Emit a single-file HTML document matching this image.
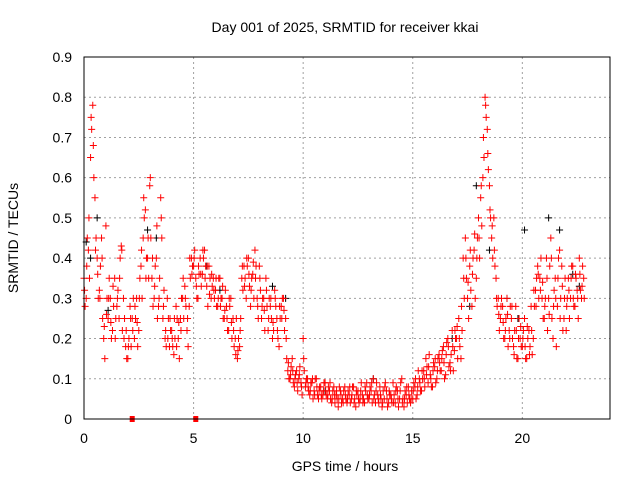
<!DOCTYPE html>
<html><head><meta charset="utf-8"><style>
body{margin:0;background:#fff}
svg{display:block;font-family:"Liberation Sans",sans-serif;font-size:14px}
</style></head><body>
<svg id="chart" width="640" height="480" viewBox="0 0 640 480" xmlns="http://www.w3.org/2000/svg">
<rect width="640" height="480" fill="#fff"/>
<g id="grid"></g>
<g id="ticks"></g>
<g id="black"></g>
<g id="red"></g>
<rect x="84" y="57" width="526" height="362" fill="none" stroke="#000" stroke-width="1"/>
<text x="345" y="32" text-anchor="middle">Day 001 of 2025, SRMTID for receiver kkai</text>
<text x="345" y="471" text-anchor="middle">GPS time / hours</text>
<text transform="translate(18,238) rotate(-90)" text-anchor="middle">SRMTID / TECUs</text>
</svg>
<script>
const xTicks=[0,5,10,15,20];
const yTicks=[0,0.1,0.2,0.3,0.4,0.5,0.6,0.7,0.8,0.9];
const yTickLabels=["0","0.1","0.2","0.3","0.4","0.5","0.6","0.7","0.8","0.9"];
const redA=[0.35,0.30,0.42,0.65,0.78,0.55,0.40,0.32,0.45,0.20,
0.48,0.25,0.30,0.22,0.35,0.28,0.25,0.43,0.30,0.18,
0.15,0.28,0.25,0.20,0.30,0.22,0.38,0.45,0.52,0.40,
0.58,0.35,0.30,0.40,0.28,0.55,0.25,0.20,0.30,0.18,
0.22,0.16,0.28,0.20,0.25,0.30,0.33,0.22,0.28,0.40,
0.38,0.35,0.30,0.40,0.36,0.42,0.33,0.38,0.30,0.35,
0.32,0.28,0.35,0.30,0.25,0.28,0.22,0.30,0.25,0.20,
0.15,0.18,0.35,0.38,0.30,0.40,0.28,0.36,0.42,0.30,
0.38,0.25,0.30,0.35,0.22,0.28,0.20,0.32,0.25,0.18,
0.28,0.30,0.25,0.12,0.10,0.15,0.08,0.12,0.10,0.09,
0.20,0.08,0.10,0.06,0.09,0.07,0.10,0.05,0.08,0.06,
0.09,0.05,0.07,0.04,0.08,0.06,0.03,0.07,0.05,0.08,
0.04,0.06,0.05,0.08,0.03,0.07,0.05,0.06,0.04,0.09,
0.05,0.07,0.10,0.04,0.06,0.08,0.03,0.05,0.07,0.04,
0.06,0.09,0.04,0.07,0.05,0.10,0.03,0.06,0.08,0.04,
0.05,0.08,0.06,0.10,0.07,0.12,0.15,0.09,0.11,0.08,
0.13,0.10,0.16,0.12,0.18,0.11,0.20,0.14,0.22,0.17,
0.20,0.25,0.15,0.40,0.45,0.30,0.38,0.28,0.42,0.35,
0.50,0.55,0.60,0.80,0.72,0.58,0.45,0.50,0.35,0.30,
0.25,0.28,0.20,0.30,0.22,0.25,0.18,0.28,0.15,0.20,
0.18,0.25,0.15,0.22,0.28,0.20,0.32,0.38,0.35,0.30,
0.25,0.40,0.30,0.45,0.20,0.35,0.28,0.42,0.38,0.25,
0.22,0.35,0.30,0.38,0.28,0.32,0.40,0.30,0.35];
const redB=[0.28,0.45,0.35,0.72,0.60,0.45,0.30,0.38,0.25,0.15,
0.30,0.35,0.20,0.28,0.25,0.32,0.40,0.22,0.25,0.15,
0.20,0.18,0.30,0.25,0.18,0.35,0.30,0.50,0.40,0.35,
0.45,0.28,0.38,0.25,0.35,0.45,0.32,0.18,0.25,0.22,
0.18,0.20,0.25,0.15,0.30,0.25,0.28,0.18,0.35,0.38,
0.42,0.30,0.36,0.33,0.40,0.38,0.28,0.35,0.33,0.30,
0.28,0.35,0.30,0.25,0.32,0.22,0.28,0.20,0.18,0.25,
0.20,0.25,0.32,0.35,0.38,0.33,0.35,0.30,0.38,0.25,
0.32,0.30,0.22,0.28,0.30,0.25,0.22,0.28,0.20,0.25,
0.30,0.22,0.15,0.10,0.13,0.09,0.11,0.07,0.13,0.06,
0.12,0.10,0.07,0.09,0.05,0.10,0.06,0.08,0.05,0.09,
0.06,0.08,0.05,0.07,0.04,0.05,0.08,0.04,0.07,0.05,
0.07,0.04,0.08,0.05,0.06,0.04,0.09,0.05,0.07,0.05,
0.08,0.04,0.06,0.09,0.04,0.05,0.07,0.09,0.03,0.06,
0.04,0.06,0.08,0.03,0.09,0.05,0.07,0.04,0.05,0.07,
0.09,0.05,0.12,0.07,0.10,0.08,0.13,0.16,0.08,0.14,
0.09,0.15,0.12,0.17,0.10,0.19,0.13,0.16,0.12,0.20,
0.15,0.18,0.22,0.30,0.35,0.25,0.32,0.40,0.30,0.45,
0.40,0.48,0.65,0.75,0.62,0.50,0.40,0.38,0.28,0.22,
0.30,0.20,0.25,0.18,0.28,0.20,0.22,0.15,0.25,0.18,
0.22,0.15,0.20,0.18,0.16,0.28,0.35,0.30,0.40,0.25,
0.30,0.22,0.38,0.25,0.32,0.18,0.40,0.30,0.22,0.35,
0.30,0.25,0.38,0.28,0.35,0.25,0.32,0.38];
const redC=[0.32,0.38,0.50,0.75,0.68,0.42,0.36,0.30,0.40,0.23,
0.26,0.30,0.24,0.33,0.20,0.30,0.35,0.42,0.20,0.22,
0.18,0.25,0.22,0.28,0.24,0.30,0.42,0.55,0.35,0.45,
0.60,0.40,0.33,0.48,0.30,0.50,0.28,0.22,0.20,0.25,
0.20,0.25,0.18,0.24,0.22,0.35,0.30,0.25,0.40,0.36,
0.40,0.33,0.38,0.36,0.42,0.35,0.38,0.31,0.36,0.32,
0.35,0.30,0.28,0.33,0.27,0.25,0.30,0.24,0.22,0.16,
0.17,0.22,0.38,0.33,0.40,0.36,0.32,0.39,0.35,0.28,
0.35,0.28,0.27,0.32,0.25,0.30,0.24,0.30,0.22,0.28,
0.25,0.27,0.20,0.14,0.11,0.12,0.10,0.09,0.11,0.08,
0.15,0.09,0.08,0.07,0.10,0.06,0.08,0.07,0.06,0.07,
0.07,0.06,0.09,0.05,0.06,0.07,0.05,0.06,0.04,0.06,
0.05,0.08,0.06,0.04,0.07,0.05,0.07,0.04,0.08,0.06,
0.06,0.09,0.05,0.07,0.05,0.06,0.04,0.08,0.05,0.07,
0.05,0.04,0.07,0.05,0.07,0.04,0.05,0.08,0.06,0.05,
0.07,0.10,0.08,0.09,0.12,0.10,0.11,0.13,0.10,0.12,
0.15,0.12,0.14,0.15,0.14,0.16,0.18,0.12,0.18,0.22,
0.23,0.20,0.28,0.35,0.40,0.34,0.42,0.36,0.46,0.40,
0.45,0.58,0.70,0.78,0.66,0.52,0.48,0.42,0.30,0.26,
0.28,0.24,0.22,0.26,0.20,0.28,0.16,0.22,0.20,0.23,
0.20,0.18,0.23,0.16,0.22,0.32,0.28,0.36,0.32,0.34,
0.28,0.35,0.26,0.40,0.28,0.30,0.35,0.25,0.33,0.30,
0.28,0.32,0.35,0.30,0.36,0.30,0.36,0.33,0.30];
const blackT=[0.1,0.6,1.1,2.9,5.6,8.6,9.2,13.2,17.6,17.9,18.5,19.3,20.1,21.2,21.7,22.3,0.3,3.3,6.2,11.0,16.8,19.8,22.6];
const blackV=[0.44,0.50,0.27,0.47,0.38,0.33,0.30,0.10,0.28,0.58,0.42,0.30,0.47,0.50,0.47,0.36,0.40,0.45,0.32,0.07,0.20,0.25,0.33];
const zeroT=[2.2,5.1];
const zeroV=[0,0];

const X0=84,X1=610,Y0=419,Y1=57,XMAX=24,YMAX=0.9;
function xs(t){return X0+(X1-X0)*t/XMAX;}
function ys(v){return Y0-(Y0-Y1)*v/YMAX;}
const NS="http://www.w3.org/2000/svg";
function mk(tag,attrs,parent){const e=document.createElementNS(NS,tag);for(const k in attrs)e.setAttribute(k,attrs[k]);parent.appendChild(e);return e;}
const grid=document.getElementById('grid'),ticks=document.getElementById('ticks');
xTicks.forEach(t=>{
  const x=xs(t);
  if(t>0){const g=mk('line',{x1:x,x2:x,y1:Y1,y2:Y0,stroke:'#a0a0a0','stroke-dasharray':'2,3'},grid);
  
  }
  const l=mk('text',{x:x,y:Y0+24,'text-anchor':'middle'},ticks);l.textContent=t;
  
  
});
yTicks.forEach((v,i)=>{
  const y=ys(v);
  if(v>0&&v<0.9){const g=mk('line',{x1:X0,x2:X1,y1:y,y2:y,stroke:'#a0a0a0','stroke-dasharray':'2,3'},grid);
  
  }
  const l=mk('text',{x:X0-12,y:y+5,'text-anchor':'end'},ticks);l.textContent=yTickLabels[i];
  
  
});
function plus(parent,t,v,color){
  const x=xs(t),y=ys(v);
  const p=mk('path',{d:`M${x-3.5},${y}H${x+3.5}M${x},${y-3.5}V${y+3.5}`,stroke:color,'stroke-width':1,fill:'none'},parent);
  
  
}
const blk=document.getElementById('black'),red=document.getElementById('red');
blackT.forEach((t,i)=>plus(blk,t,blackV[i],'#000'));
redA.forEach((v,i)=>plus(red,i*0.1,v,'#ff0000'));
redB.forEach((v,i)=>plus(red,i*0.1+0.05,v,'#ff0000'));
redC.forEach((v,i)=>plus(red,i*0.1+0.025,v,'#ff0000'));
zeroT.forEach((t,i)=>{
  const r=mk('rect',{x:xs(t)-2.5,y:ys(zeroV[i])-3,width:5,height:6,fill:'#ff0000'},red);
  
  
});
</script>
</body></html>
